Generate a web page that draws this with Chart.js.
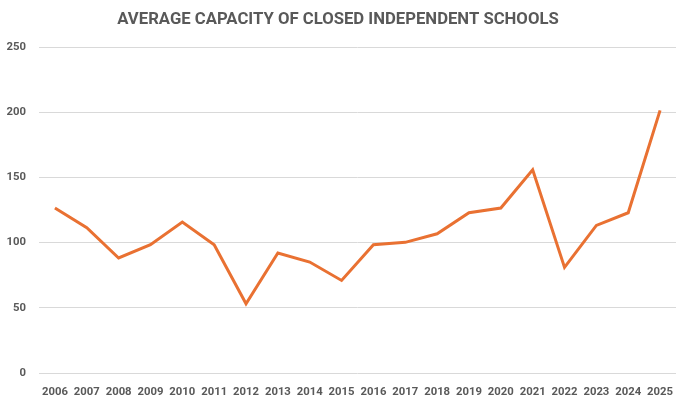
<!DOCTYPE html>
<html><head><meta charset="utf-8">
<script src="https://cdn.jsdelivr.net/npm/chart.js@4/dist/chart.umd.min.js"></script>
<style>html,body{margin:0;padding:0;background:#fff;}#wrap{width:688px;height:405px;}</style>
</head><body><div id="wrap"><canvas id="c"></canvas></div>
<script>
const years = ["2006","2007","2008","2009","2010","2011","2012","2013","2014","2015","2016","2017","2018","2019","2020","2021","2022","2023","2024","2025"];
const avgCapacity = [126.5,111.5,88.2,98.4,115.8,98.4,53.1,92,85.1,71,98.4,100.2,106.8,122.9,126.5,155.9,81,113.2,122.9,201.4];
const yTicks = [0,50,100,150,200,250];
const titleText = "AVERAGE CAPACITY OF CLOSED INDEPENDENT SCHOOLS";

new Chart(document.getElementById('c'), {
  type: 'line',
  data: { labels: years, datasets: [{ data: avgCapacity, borderColor: '#E97132', borderWidth: 3, pointRadius: 0, tension: 0, fill: false }] },
  options: {
    responsive: true, maintainAspectRatio: false, animation: false,
    layout: { padding: { left: 0, right: 12, top: 0, bottom: 0 } },
    plugins: {
      legend: { display: false }, tooltip: { enabled: false },
      title: { display: true, text: titleText, color: '#595959', font: { family: 'Roboto', size: 16.7, weight: 'bold', lineHeight: 1.2 }, padding: { top: 9.5, bottom: 17.5 } }
    },
    scales: {
      x: {
        offset: true,
        grid: { display: false, drawTicks: false },
        border: { display: false },
        ticks: { color: '#595959', font: { family: 'Roboto', size: 11.3, weight: 'bold', lineHeight: 1.2 }, padding: 12, maxRotation: 0, autoSkip: false },
        afterFit: s => { s.height = 32; }
      },
      y: {
        min: 0, max: 250,
        afterBuildTicks: s => { s.ticks = yTicks.map(v => ({ value: v })); },
        grid: { color: '#d9d9d9', drawTicks: false, lineWidth: 1 },
        border: { display: false },
        ticks: { color: '#595959', font: { family: 'Roboto', size: 11.3, weight: 'bold' }, padding: 13 },
        afterFit: s => { s.width = 39; }
      }
    }
  }
});
</script></body></html>
